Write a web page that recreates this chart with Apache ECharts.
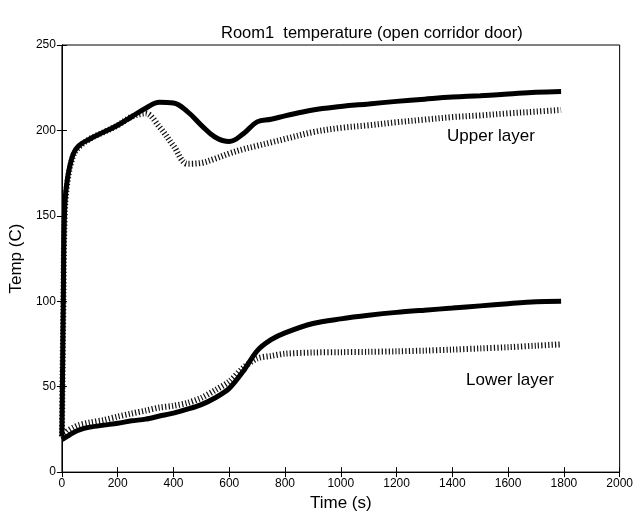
<!DOCTYPE html>
<html>
<head>
<meta charset="utf-8">
<script src="https://cdn.jsdelivr.net/npm/echarts@6/dist/echarts.min.js"></script>
<style>
  html, body { margin: 0; padding: 0; background: #fff; }
  #chart { width: 636px; height: 517px; }
</style>
</head>
<body>
<div id="chart"></div>
<script>
// time points (s)
var times = [0, 5, 10, 20, 40, 60, 100, 150, 200, 250, 300, 350, 400, 450, 500, 550, 600, 650, 700, 750, 800, 900, 1000, 1100, 1200, 1300, 1400, 1500, 1600, 1700, 1790];

// temperatures (C)
var upperSolid = [21, 100, 155, 172, 186, 191, 195, 199, 203, 208, 213, 216.5, 216, 211, 203, 196, 193.5, 198, 205, 206.5, 208.5, 212, 214, 215.5, 217, 218.3, 219.5, 220.3, 221.3, 222.3, 222.8];
var upperDotted = [21, 95, 150, 170, 185, 190, 195, 199, 203, 208, 210, 202, 191, 180.5, 181, 183.5, 186.5, 189, 191, 193, 195, 199, 201.5, 203, 204.8, 206.3, 207.8, 208.8, 210, 211, 212];
var lowerSolid = [19, 19.5, 20, 21, 23, 24.6, 26.3, 27.5, 28.6, 30, 31, 32.8, 34.5, 36.8, 39.5, 43.5, 49, 59, 71, 77.5, 81.5, 87, 89.7, 91.8, 93.5, 94.8, 96, 97.3, 98.6, 99.7, 100];
var lowerDotted = [21, 21.5, 22, 24, 26, 27.5, 29, 30.5, 32.5, 34.3, 36, 37.8, 38.8, 40.5, 43.5, 48, 53, 61, 66.5, 68, 69.3, 70, 70.2, 70.4, 70.7, 71.1, 71.7, 72.4, 73.1, 74, 74.8];

function pairs(vals) {
  return times.map(function (t, i) { return [t, vals[i]]; });
}

var font = 'Liberation Sans';
var chart = echarts.init(document.getElementById('chart'));

var hatch = { color: '#111', width: 6, type: [1.2, 2.2], cap: 'butt' };
var thick = { color: '#000', width: 5 };
var plain = function (v) { return String(v); };

var option = {
  backgroundColor: '#fff',
  animation: false,
  title: {
    text: 'Room1  temperature (open corridor door)',
    left: 216,
    top: 20,
    textStyle: { fontFamily: font, fontSize: 16.5, fontWeight: 'normal', color: '#000' }
  },
  grid: {
    left: 56, right: 16, top: 45, bottom: 36,
    show: true, borderColor: '#000', borderWidth: 1, backgroundColor: 'transparent'
  },
  xAxis: [{
    type: 'value', min: 0, max: 2000, interval: 200,
    name: 'Time (s)', nameLocation: 'middle', nameGap: 22,
    nameTextStyle: { fontFamily: font, fontSize: 17, color: '#000' },
    axisLine: { lineStyle: { color: '#000' } },
    axisTick: { inside: true, length: 5, lineStyle: { color: '#000' } },
    axisLabel: { fontFamily: font, fontSize: 12, color: '#000', margin: 6, formatter: plain },
    splitLine: { show: false }
  }, {
    type: 'value', min: 0, max: 2000, interval: 200, position: 'top',
    axisLine: { lineStyle: { color: '#000' } },
    axisTick: { inside: true, length: 5, lineStyle: { color: '#000' } },
    axisLabel: { show: false },
    splitLine: { show: false }
  }],
  yAxis: [{
    type: 'value', min: 0, max: 250, interval: 50,
    name: 'Temp (C)', nameLocation: 'middle', nameGap: 30,
    nameTextStyle: { fontFamily: font, fontSize: 17, color: '#000' },
    axisLine: { show: true, lineStyle: { color: '#000' } },
    axisTick: { show: true, inside: true, length: 5, lineStyle: { color: '#000' } },
    axisLabel: { fontFamily: font, fontSize: 12, color: '#000', margin: 6, formatter: plain },
    splitLine: { show: false }
  }, {
    type: 'value', min: 0, max: 250, interval: 50, position: 'right',
    axisLine: { show: true, lineStyle: { color: '#000' } },
    axisTick: { show: true, inside: true, length: 5, lineStyle: { color: '#000' } },
    axisLabel: { show: false },
    splitLine: { show: false }
  }],
  series: [
    { name: 'Upper layer (dotted)', type: 'line', data: pairs(upperDotted), showSymbol: false, smooth: 0.35, lineStyle: hatch },
    { name: 'Lower layer (dotted)', type: 'line', data: pairs(lowerDotted), showSymbol: false, smooth: 0.3, lineStyle: hatch },
    { name: 'Upper layer', type: 'line', data: pairs(upperSolid), showSymbol: false, smooth: 0.4, lineStyle: thick },
    { name: 'Lower layer', type: 'line', data: pairs(lowerSolid), showSymbol: false, smooth: 0.3, lineStyle: thick }
  ],
  graphic: [
    { type: 'text', left: 447, top: 128, style: { text: 'Upper layer', fontFamily: font, fontSize: 17, fill: '#000' } },
    { type: 'text', left: 466, top: 372, style: { text: 'Lower layer', fontFamily: font, fontSize: 17, fill: '#000' } }
  ]
};

chart.setOption(option);
window.addEventListener('resize', function () {
  chart.resize();
});
</script>
</body>
</html>
